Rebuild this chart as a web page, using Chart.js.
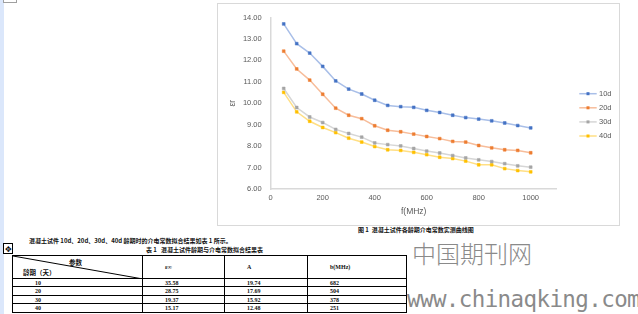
<!DOCTYPE html>
<html>
<head>
<meta charset="utf-8">
<script src="https://cdn.jsdelivr.net/npm/chart.js@4/dist/chart.umd.min.js"></script>
<style>
	body { margin: 0; width: 638px; height: 314px; background: #fff; position: relative; overflow: hidden; font-family: "Noto Sans CJK SC", sans-serif; }
	.abs { position: absolute; }
	#strip { left: 0; top: 0; width: 3.5px; height: 314px; background: #dbe7fb; }
	#corner { left: 3px; top: -1px; width: 12px; height: 2px; border: 1px solid #a0a0a0; background: #fff; }
	#frame { left: 217px; top: 3px; width: 403px; height: 223px; border: 1px solid #d9d9d9; box-sizing: border-box; }
	#frame canvas { position: absolute; left: 0; top: 0; }
	.small { font-size: 6px; line-height: 7px; font-weight: bold; color: #111; white-space: nowrap; }
	#handle { left: 3px; top: 243px; width: 8px; height: 9px; border: 1px solid #000; font-size: 8px; line-height: 9px; text-align: center; background: #fff; }
	table { position: absolute; left: 12px; top: 255px; width: 394px; border-collapse: collapse; table-layout: fixed; }
	td { border: 1px solid #000; padding: 0 0 0 22px; font-size: 6px; line-height: 6px; font-weight: bold; color: #111; white-space: nowrap; font-family: "Liberation Serif", serif; }
	#wm1 { left: 412px; top: 239px; font-size: 24px; line-height: 28px; color: #8a8a8a; font-weight: 300; }
	#wm2 { left: 407px; top: 286px; font-size: 22.5px; line-height: 26px; color: #8a8a8a; font-family: "DejaVu Sans Mono", monospace; letter-spacing: -0.6px; }
</style>
</head>
<body>
<div id="strip" class="abs"></div>
<div id="corner" class="abs"></div>
<div id="frame" class="abs"><canvas id="dielectric" width="401" height="221"></canvas></div>

<div class="abs small" style="left:358px; top:226px;">图 1&nbsp; 混凝土试件各龄期介电常数实测曲线图</div>
<div class="abs small" style="left:29px; top:237px;">混凝土试件 10d、20d、30d、40d 龄期时的介电常数拟合结果如表 1 所示。</div>
<div class="abs small" style="left:146px; top:246px;">表 1&nbsp;&nbsp; 混凝土试件龄期与介电常数拟合结果表</div>
<div id="handle" class="abs">✥</div>

<table>
	<colgroup><col style="width:130px"><col style="width:82px"><col style="width:83px"><col style="width:99px"></colgroup>
	<tr style="height:23px">
		<td style="position:relative; padding:0;">
			<svg width="130" height="23" style="position:absolute; left:0; top:0;"><line x1="0" y1="0" x2="130" y2="23" stroke="#000" stroke-width="1"/></svg>
			<span style="position:absolute; left:56px; top:3px; font-family:'Noto Sans CJK SC'; font-size:6.5px; line-height:7px;">参数</span>
			<span style="position:absolute; left:10px; top:13px; font-family:'Noto Sans CJK SC'; font-size:6.5px; line-height:7px;">龄期（天）</span>
		</td>
		<td>ε∞</td><td>A</td><td>b(MHz)</td>
	</tr>
	<tr style="height:8px"><td>10</td><td>35.58</td><td>19.74</td><td>682</td></tr>
	<tr style="height:9px"><td>20</td><td>28.75</td><td>17.69</td><td>504</td></tr>
	<tr style="height:8px"><td>30</td><td>19.37</td><td>15.92</td><td>378</td></tr>
	<tr style="height:9px"><td>40</td><td>15.17</td><td>12.48</td><td>251</td></tr>
</table>

<div id="wm1" class="abs">中国期刊网</div>
<div id="wm2" class="abs">www.chinaqking.com</div>

<script>
// Measured dielectric constant vs. frequency, one series per curing age
var freqs = [50, 100, 150, 200, 250, 300, 350, 400, 450, 500, 550, 600, 650, 700, 750, 800, 850, 900, 950, 1000];
var seriesNames = ['10d', '20d', '30d', '40d'];
var eps10 = [13.70, 12.78, 12.34, 11.72, 11.04, 10.66, 10.43, 10.14, 9.90, 9.84, 9.81, 9.67, 9.57, 9.44, 9.33, 9.26, 9.18, 9.08, 8.96, 8.85];
var eps20 = [12.43, 11.60, 11.08, 10.42, 9.77, 9.44, 9.28, 8.95, 8.74, 8.67, 8.56, 8.45, 8.35, 8.22, 8.19, 8.03, 7.92, 7.83, 7.80, 7.69];
var eps30 = [10.69, 9.80, 9.36, 9.10, 8.78, 8.59, 8.42, 8.15, 8.07, 8.01, 7.89, 7.77, 7.68, 7.56, 7.45, 7.36, 7.28, 7.18, 7.08, 7.02];
var eps40 = [10.51, 9.60, 9.16, 8.87, 8.63, 8.37, 8.19, 7.98, 7.83, 7.80, 7.71, 7.60, 7.48, 7.42, 7.30, 7.13, 7.13, 6.95, 6.86, 6.80];
var xTicks = [0, 200, 400, 600, 800, 1000];
var yTicks = [6, 7, 8, 9, 10, 11, 12, 13, 14];

var lineColors = ['#a9bfe8', '#f7bd9b', '#d6d6d6', '#ffdf85'];
var markColors = ['#4472c4', '#ed7d31', '#a5a5a5', '#ffc000'];
var textColor = '#595959';
var tickFont = { family: 'Liberation Sans', size: 7.5 };

var toPoints = function (ys) {
	return freqs.map(function (f, i) { return { x: f, y: ys[i] }; });
};

var allSeries = [eps10, eps20, eps30, eps40];
var datasets = allSeries.map(function (ys, i) {
	return {
		label: seriesNames[i],
		data: toPoints(ys),
		borderColor: lineColors[i],
		borderWidth: 1.5,
		pointStyle: 'rect',
		pointRadius: 2,
		pointBorderWidth: 0.5,
		pointBackgroundColor: markColors[i],
		pointBorderColor: markColors[i],
		tension: 0,
	};
});

// Excel-like legend: short line with a marker, drawn on the right
var sideLegend = {
	id: 'sideLegend',
	afterDraw: function (chart) {
		var ctx = chart.ctx;
		ctx.save();
		chart.data.datasets.forEach(function (ds, i) {
			var y = 89.7 + i * 14.1;
			ctx.strokeStyle = ds.borderColor;
			ctx.lineWidth = 1.5;
			ctx.beginPath();
			ctx.moveTo(361.3, y);
			ctx.lineTo(378.7, y);
			ctx.stroke();
			ctx.fillStyle = ds.pointBackgroundColor;
			ctx.fillRect(368.5, y - 1.5, 3, 3);
			ctx.fillStyle = textColor;
			ctx.font = '7.5px "Liberation Sans"';
			ctx.textAlign = 'left';
			ctx.textBaseline = 'middle';
			ctx.fillText(ds.label, 381, y);
		});
		ctx.restore();
	},
};

var canvas = document.getElementById('dielectric');
new Chart(canvas.getContext('2d'), {
	type: 'line',
	data: { datasets: datasets },
	plugins: [sideLegend],
	options: {
		responsive: false,
		animation: false,
		devicePixelRatio: 1,
		layout: { padding: { top: 8.7, right: 62.3, left: 0, bottom: 0 } },
		plugins: { legend: { display: false }, tooltip: { enabled: false } },
		scales: {
			x: {
				type: 'linear',
				min: 0,
				max: 1100,
				afterBuildTicks: function (scale) {
					scale.ticks = xTicks.map(function (v) { return { value: v }; });
				},
				afterFit: function (scale) { scale.height = 36; },
				grid: { display: false, drawTicks: false },
				border: { color: '#d9d9d9', width: 1.5 },
				ticks: {
					padding: 4,
					color: textColor,
					font: tickFont,
					maxRotation: 0,
					callback: function (v) { return String(v); },
				},
				title: {
					display: true,
					text: 'f(MHz)',
					color: textColor,
					font: { family: 'Liberation Sans', size: 8.5 },
					padding: { top: 0, bottom: 8 },
				},
			},
			y: {
				min: 6,
				max: 14,
				afterBuildTicks: function (scale) {
					scale.ticks = yTicks.map(function (v) { return { value: v }; });
				},
				afterFit: function (scale) { scale.width = 52.7; },
				grid: { display: false, drawTicks: false },
				border: { color: '#d9d9d9', width: 1.5 },
				ticks: {
					padding: 9,
					color: textColor,
					font: tickFont,
					callback: function (v) { return v.toFixed(2); },
				},
				title: {
					display: true,
					text: 'εr',
					color: textColor,
					font: { family: 'Liberation Sans', size: 8.5 },
					padding: { top: 10, bottom: 0 },
				},
			},
		},
	},
});
</script>
</body>
</html>
